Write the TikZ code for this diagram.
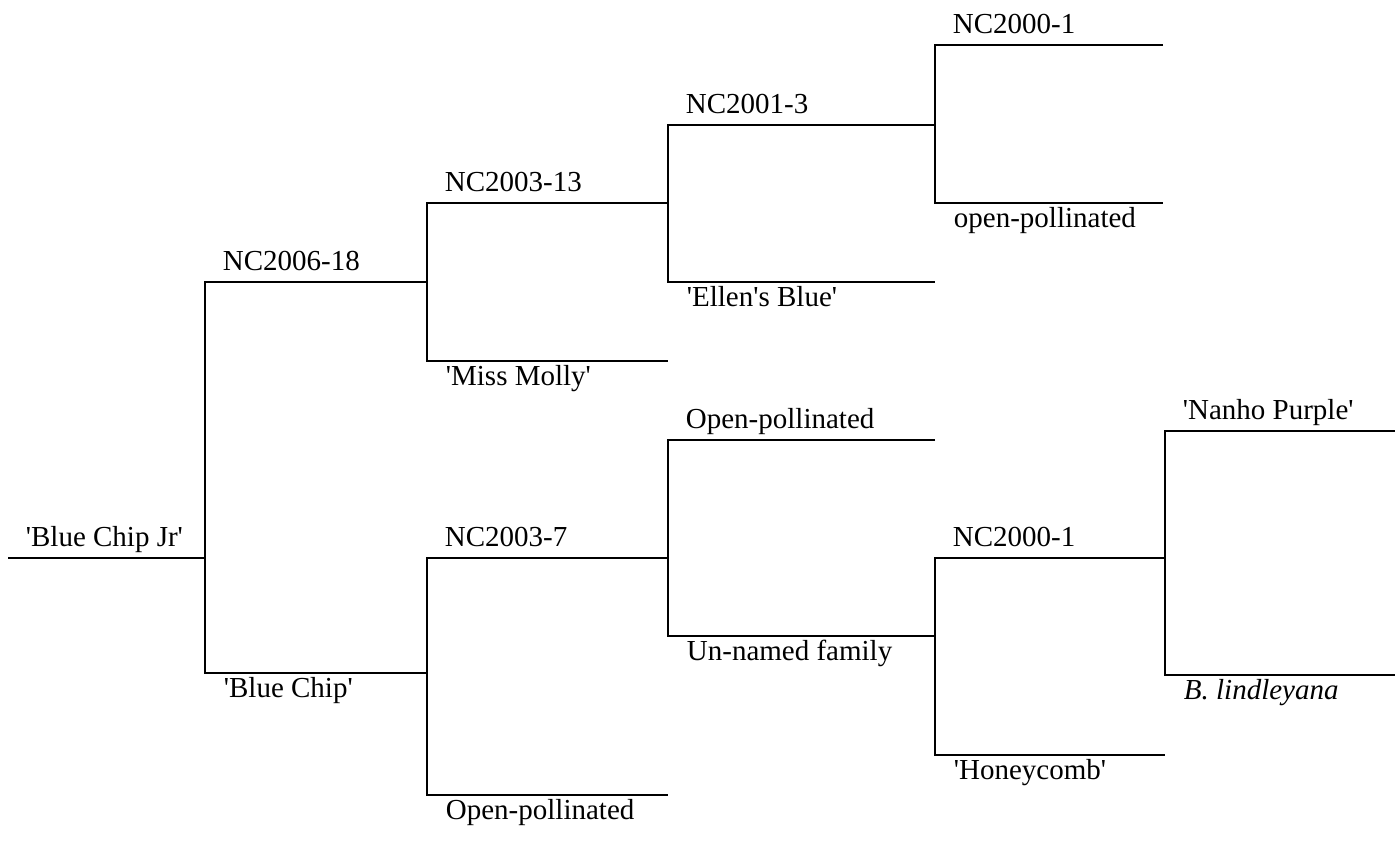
\documentclass[tikz,border=0pt]{standalone}
\usepackage{fontspec}
\setmainfont{Liberation Serif}
\newcommand{\cv}[1]{\textquotesingle#1\textquotesingle}
\begin{document}
\begin{tikzpicture}[x=0.5pt, y=-0.5pt, line width=0.9pt,
    up/.style = {anchor=base west, inner sep=0pt, font=\fontsize{14.5}{17}\selectfont, xshift=8.5pt, yshift=6pt},
    dn/.style = {anchor=base west, inner sep=0pt, font=\fontsize{14.5}{17}\selectfont, xshift=9pt, yshift=-12pt}]
          \useasboundingbox (0,0) rectangle (1395,843);
          % junctions and ends
          \coordinate (r0) at (8,558);
          \coordinate (r) at (205,558);
          \coordinate (a0) at (205,282);  \coordinate (a) at (427,282);
          \coordinate (b0) at (205,673);  \coordinate (b) at (427,673);
          \coordinate (aa0) at (427,203); \coordinate (aa) at (668,203);
          \coordinate (ab0) at (427,361); \coordinate (ab) at (668,361);
          \coordinate (aaa0) at (668,125); \coordinate (aaa) at (935,125);
          \coordinate (aab0) at (668,282); \coordinate (aab) at (935,282);
          \coordinate (aaaa0) at (935,45);  \coordinate (aaaa) at (1163,45);
          \coordinate (aaab0) at (935,203); \coordinate (aaab) at (1163,203);
          \coordinate (ba0) at (427,558); \coordinate (ba) at (668,558);
          \coordinate (bb0) at (427,795); \coordinate (bb) at (668,795);
          \coordinate (baa0) at (668,440); \coordinate (baa) at (935,440);
          \coordinate (bab0) at (668,636); \coordinate (bab) at (935,636);
          \coordinate (baba0) at (935,558); \coordinate (baba) at (1165,558);
          \coordinate (babb0) at (935,755); \coordinate (babb) at (1165,755);
          \coordinate (babaa0) at (1165,431); \coordinate (babaa) at (1395,431);
          \coordinate (babab0) at (1165,675); \coordinate (babab) at (1395,675);
          % labels
          \node[up] (lr) at (r0) {\cv{Blue Chip Jr}};
          \node[up] (la) at (a0) {NC2006-18};
          \node[dn] (lb) at (b0) {\cv{Blue Chip}};
          \node[up] (laa) at (aa0) {NC2003-13};
          \node[dn] (lab) at (ab0) {\cv{Miss Molly}};
          \node[up] (laaa) at (aaa0) {NC2001-3};
          \node[dn] (laab) at (aab0) {\cv{Ellen\textquotesingle s Blue}};
          \node[up] (laaaa) at (aaaa0) {NC2000-1};
          \node[dn] (laaab) at (aaab0) {open-pollinated};
          \node[up] (lba) at (ba0) {NC2003-7};
          \node[dn] (lbb) at (bb0) {Open-pollinated};
          \node[up] (lbaa) at (baa0) {Open-pollinated};
          \node[dn] (lbab) at (bab0) {Un-named family};
          \node[up] (lbaba) at (baba0) {NC2000-1};
          \node[dn] (lbabb) at (babb0) {\cv{Honeycomb}};
          \node[up] (lbabaa) at (babaa0) {\cv{Nanho Purple}};
          \node[dn] (lbabab) at (babab0) {\textit{B. lindleyana}};
          % lines
          \draw (r0) -- (r);
          \draw (a) -- (a0) -- (b0) -- (b);
          \draw (aa) -- (aa0) -- (ab0) -- (ab);
          \draw (aaa) -- (aaa0) -- (aab0) -- (aab);
          \draw (aaaa) -- (aaaa0) -- (aaab0) -- (aaab);
          \draw (ba) -- (ba0) -- (bb0) -- (bb);
          \draw (baa) -- (baa0) -- (bab0) -- (bab);
          \draw (baba) -- (baba0) -- (babb0) -- (babb);
          \draw (babaa) -- (babaa0) -- (babab0) -- (babab);
\end{tikzpicture}
\end{document}
